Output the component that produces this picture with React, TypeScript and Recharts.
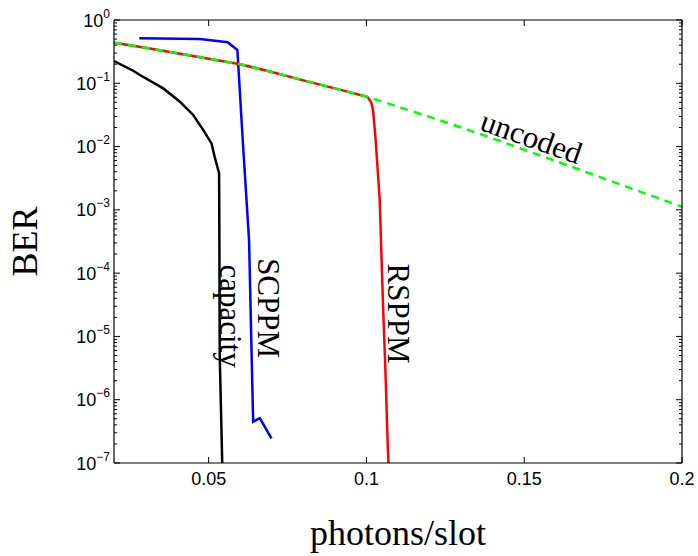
import { LineChart, Line, XAxis, YAxis, ReferenceDot } from 'recharts';

document.body.style.margin = '0';

// photons/slot vs BER
const uncodedX = [0.02, 0.03, 0.04, 0.05, 0.06, 0.07, 0.08, 0.09, 0.1, 0.11, 0.12, 0.13, 0.14, 0.15, 0.16, 0.17, 0.18, 0.19, 0.2];
const uncodedBer = [0.438, 0.363, 0.299, 0.245, 0.2, 0.151, 0.111, 0.083, 0.0617, 0.0427, 0.0295, 0.02, 0.0135, 0.0089, 0.0059, 0.0039, 0.00257, 0.0017, 0.00112];

const rsppmX = [0.02, 0.03, 0.04, 0.05, 0.06, 0.07, 0.08, 0.09, 0.1, 0.1005, 0.1015, 0.1021, 0.1029, 0.1036, 0.1042, 0.1052, 0.106, 0.1068, 0.1074];
const rsppmBer = [0.438, 0.363, 0.299, 0.245, 0.2, 0.151, 0.111, 0.083, 0.0617, 0.0595, 0.05, 0.038, 0.013, 0.004, 0.00145, 3.8e-5, 3e-6, 1.6e-7, 4e-8];

const scppmX = [0.028, 0.0472, 0.056, 0.0591, 0.0608, 0.0628, 0.0638, 0.0641, 0.0662, 0.0699];
const scppmBer = [0.514, 0.501, 0.444, 0.336, 0.0126, 3.3e-4, 2.0e-6, 4.5e-7, 5.1e-7, 2.45e-7];

const capacityX = [0.02, 0.0261, 0.0282, 0.0356, 0.0409, 0.0451, 0.0483, 0.0509, 0.0519, 0.053, 0.0533, 0.0534, 0.0535, 0.0543, 0.0545];
const capacityBer = [0.225, 0.158, 0.135, 0.083, 0.051, 0.0316, 0.0182, 0.0112, 0.0069, 0.0043, 0.0038, 3.3e-4, 5.1e-6, 1e-7, 5e-8];

const X_TICKS = [0.05, 0.1, 0.15, 0.2];
const X_LABELS = ['0.05', '0.1', '0.15', '0.2'];
const Y_MAJOR = [1e-7, 1e-6, 1e-5, 1e-4, 1e-3, 1e-2, 1e-1, 1];
const Y_EXP = ['−7', '−6', '−5', '−4', '−3', '−2', '−1', '0'];
const MANTISSAS = [2, 3, 4, 5, 6, 7, 8, 9];

const Y_MINOR = Y_MAJOR.slice(0, -1).flatMap((d) => MANTISSAS.map((m) => m * d));
const Y_TICKS = [...Y_MAJOR, ...Y_MINOR];

const toRows = (xs: number[], ys: number[]) => xs.map((x, i) => ({ x, y: ys[i] }));

const GAP = 4;
const SANS = 'Liberation Sans, Arial, sans-serif';
const SERIF = 'Liberation Serif, Times New Roman, serif';

const makeYTick = (side: 'left' | 'right') => (props: any) => {
  const { x, y, payload } = props;
  const idx = Y_MAJOR.indexOf(payload.value);
  const major = idx >= 0;
  const ax = side === 'left' ? x + GAP : x - GAP;
  const dir = side === 'left' ? 1 : -1;
  const len = major ? 6 : 3;
  return (
    <g>
      <line x1={ax} x2={ax + dir * len} y1={y} y2={y} stroke="#000" strokeWidth={1} />
      {side === 'left' && major && (
        <text x={ax - 4} y={y + 6.5} textAnchor="end" fontFamily={SANS} fontSize={18} fill="#000">
          <tspan>10</tspan>
          <tspan dy={-9} fontSize={12}>{Y_EXP[idx]}</tspan>
        </text>
      )}
    </g>
  );
};

const makeXTick = (side: 'top' | 'bottom') => (props: any) => {
  const { x, y, payload } = props;
  const ay = side === 'bottom' ? y - GAP : y + GAP;
  const dir = side === 'bottom' ? -1 : 1;
  const idx = X_TICKS.indexOf(payload.value);
  return (
    <g>
      <line x1={x} x2={x} y1={ay} y2={ay + dir * 6} stroke="#000" strokeWidth={1} />
      {side === 'bottom' && (
        <text x={x} y={ay + 22} textAnchor="middle" fontFamily={SANS} fontSize={18} fill="#000">
          {X_LABELS[idx]}
        </text>
      )}
    </g>
  );
};

const curveLabel = (text: string, angle: number) => (p: any) => (
  <text
    x={p.cx}
    y={p.cy}
    transform={`rotate(${angle} ${p.cx} ${p.cy})`}
    textAnchor="middle"
    dominantBaseline="central"
    fontFamily={SERIF}
    fontSize={31}
    fill="#000"
  >
    {text}
  </text>
);

export default function App() {
  return (
    <LineChart width={698} height={556} margin={{ top: 0, right: 0, bottom: 0, left: 0 }}>
      <XAxis
        xAxisId="b"
        type="number"
        dataKey="x"
        domain={[0.02, 0.2]}
        allowDataOverflow
        ticks={X_TICKS}
        interval={0}
        height={93}
        tickSize={0}
        tickMargin={GAP}
        tickLine={false}
        tick={makeXTick('bottom')}
        axisLine={{ stroke: '#000', strokeWidth: 1.2 }}
        label={{
          content: (p: any) => (
            <text
              x={p.viewBox.x + p.viewBox.width / 2}
              y={p.viewBox.y + 82}
              textAnchor="middle"
              fontFamily={SERIF}
              fontSize={36}
              fill="#000"
            >
              photons/slot
            </text>
          ),
        }}
      />
      <XAxis
        xAxisId="t"
        orientation="top"
        type="number"
        dataKey="x"
        domain={[0.02, 0.2]}
        allowDataOverflow
        ticks={X_TICKS}
        interval={0}
        height={20}
        tickSize={0}
        tickMargin={GAP}
        tickLine={false}
        tick={makeXTick('top')}
        axisLine={{ stroke: '#000', strokeWidth: 1.2 }}
      />
      <YAxis
        yAxisId="l"
        type="number"
        scale="log"
        domain={[1e-7, 1]}
        allowDataOverflow
        ticks={Y_TICKS}
        interval={0}
        width={114}
        tickSize={0}
        tickMargin={GAP}
        tickLine={false}
        tick={makeYTick('left')}
        axisLine={{ stroke: '#000', strokeWidth: 1.2 }}
        label={{
          content: (p: any) => {
            const cx = 25;
            const cy = p.viewBox.y + p.viewBox.height / 2;
            return (
              <text
                x={cx}
                y={cy}
                transform={`rotate(-90 ${cx} ${cy})`}
                textAnchor="middle"
                dominantBaseline="central"
                fontFamily={SERIF}
                fontSize={36}
                fill="#000"
              >
                BER
              </text>
            );
          },
        }}
      />
      <YAxis
        yAxisId="r"
        orientation="right"
        type="number"
        scale="log"
        domain={[1e-7, 1]}
        allowDataOverflow
        ticks={Y_TICKS}
        interval={0}
        width={16}
        tickSize={0}
        tickMargin={GAP}
        tickLine={false}
        tick={makeYTick('right')}
        axisLine={{ stroke: '#000', strokeWidth: 1.2 }}
      />

      <Line xAxisId="b" yAxisId="l" data={toRows(capacityX, capacityBer)} dataKey="y" stroke="#000" strokeWidth={2.5} dot={false} isAnimationActive={false} />
      <Line xAxisId="b" yAxisId="l" data={toRows(scppmX, scppmBer)} dataKey="y" stroke="#0000ff" strokeWidth={2.5} dot={false} isAnimationActive={false} />
      <Line xAxisId="b" yAxisId="l" data={toRows(rsppmX, rsppmBer)} dataKey="y" stroke="#ff0000" strokeWidth={2.5} dot={false} isAnimationActive={false} />
      <Line xAxisId="b" yAxisId="l" data={toRows(uncodedX, uncodedBer)} dataKey="y" stroke="#00ff00" strokeWidth={2.5} strokeDasharray="8 6" dot={false} isAnimationActive={false} />

      <ReferenceDot xAxisId="b" yAxisId="l" x={0.057} y={2.1e-5} r={0} shape={curveLabel('capacity', 90)} />
      <ReferenceDot xAxisId="b" yAxisId="l" x={0.069} y={2.8e-5} r={0} shape={curveLabel('SCPPM', 90)} />
      <ReferenceDot xAxisId="b" yAxisId="l" x={0.1103} y={2.3e-5} r={0} shape={curveLabel('RSPPM', 90)} />
      <ReferenceDot xAxisId="b" yAxisId="l" x={0.1523} y={0.0141} r={0} shape={curveLabel('uncoded', 19.5)} />
    </LineChart>
  );
}
